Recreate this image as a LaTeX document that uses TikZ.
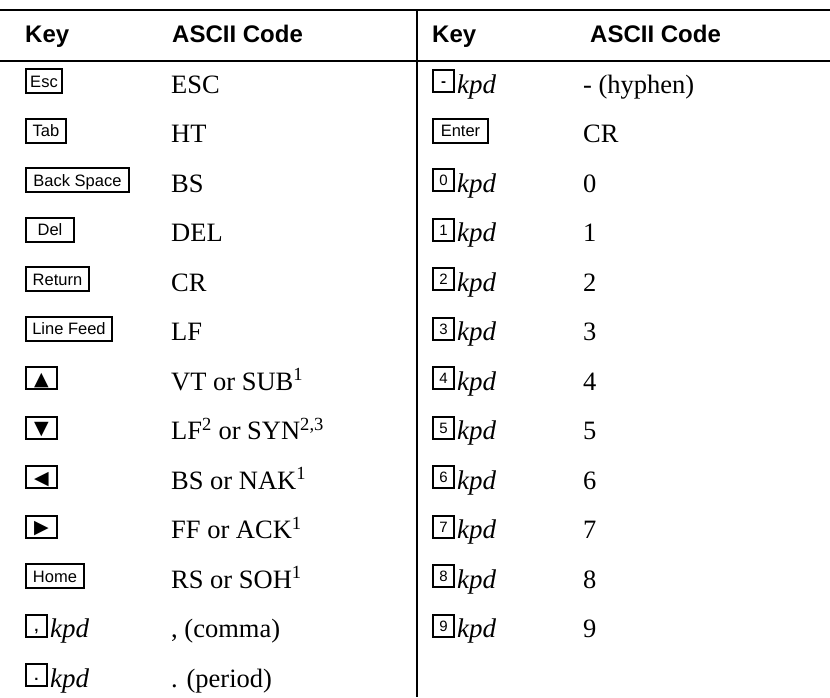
\documentclass[tikz,border=0pt]{standalone}
\usepackage{fontspec}
\setmainfont{Liberation Serif}
\setsansfont{Liberation Sans}
\newfontfamily\arrowfont{DejaVu Sans}
\usetikzlibrary{positioning}

\begin{document}
\begin{tikzpicture}[x=1pt, y=-1pt]
    \tikzset{
      head/.style={anchor=base west, inner sep=0, font=\sffamily\bfseries\fontsize{24}{28}\selectfont},
      code/.style={anchor=base west, inner sep=0, font=\fontsize{26.5}{30}\selectfont},
      kpd/.style={code, font=\itshape\fontsize{27}{30}\selectfont},
      key/.style={draw, line width=2pt, anchor=west, minimum height=24pt,
                  inner xsep=3pt, inner ysep=0, text height=12pt, text depth=0pt,
                  font=\sffamily\fontsize{16.5}{18}\selectfont},
      pad/.style={key, minimum width=21pt, minimum height=22pt, inner sep=0,
                  text height=11pt, font=\sffamily\fontsize{15}{16}\selectfont},
      arrowkey/.style={key, minimum width=31pt, minimum height=22pt, inner sep=0,
                  text height=14pt, font=\arrowfont\fontsize{19}{20}\selectfont},
    }
    \useasboundingbox (0,0) rectangle (830,697);

    % rules
    \coordinate (tl) at (0,9.5);
    \coordinate (tr) at (830,9.5);
    \coordinate (hl) at (0,61);
    \coordinate (hr) at (830,61);
    \coordinate (vt) at (417,9.5);
    \coordinate (vb) at (417,697);
    \draw[line width=2pt] (tl) -- (tr);
    \draw[line width=2.5pt] (hl) -- (hr);
    \draw[line width=2pt] (vt) -- (vb);

    % header
    \node[head] (hk1) at (25,42) {Key};
    \node[head] (hc1) at (172,42) {ASCII Code};
    \node[head] (hk2) at (432,42) {Key};
    \node[head] (hc2) at (590,42) {ASCII Code};

    % left half
    \node[key, minimum width=36pt] (esc) at (25,81) {Esc};
    \node[code] (c-esc) at (171,93) {ESC};
    \node[key, minimum width=40pt] (tab) at (25,130.5) {Tab};
    \node[code] (c-tab) at (171,142.5) {HT};
    \node[key, minimum width=103pt] (bsp) at (25,180) {Back Space};
    \node[code] (c-bsp) at (171,192) {BS};
    \node[key, minimum width=48pt] (del) at (25,229.5) {Del};
    \node[code] (c-del) at (171,241.5) {DEL};
    \node[key, minimum width=63pt] (ret) at (25,279) {Return};
    \node[code] (c-ret) at (171,291) {CR};
    \node[key, minimum width=86pt] (lf) at (25,328.5) {Line Feed};
    \node[code] (c-lf) at (171,340.5) {LF};
    \node[arrowkey] (up) at (25,378) {▲};
    \node[code] (c-up) at (171,390) {VT or SUB\textsuperscript{1}};
    \node[arrowkey] (down) at (25,427.5) {▼};
    \node[code] (c-down) at (171,439.5) {LF\textsuperscript{2} or SYN\textsuperscript{2,3}};
    \node[arrowkey] (left) at (25,477) {◀};
    \node[code] (c-left) at (171,489) {BS or NAK\textsuperscript{1}};
    \node[arrowkey] (right) at (25,526.5) {▶};
    \node[code] (c-right) at (171,538.5) {FF or ACK\textsuperscript{1}};
    \node[key, minimum width=58pt] (home) at (25,576) {Home};
    \node[code] (c-home) at (171,588) {RS or SOH\textsuperscript{1}};
    \node[pad] (comma) at (25,625.5) {\bfseries ,};
    \node[code] (c-comma) at (171,637.5) {, (comma)};
    \node[kpd] (k-comma) at ([xshift=2pt]comma.east |- c-comma.base) {kpd};
    \node[pad] (period) at (25,675) {\bfseries .};
    \node[code] (c-period) at (171,687) {. (period)};
    \node[kpd] (k-period) at ([xshift=2pt]period.east |- c-period.base) {kpd};

    % right half
    \node[pad] (hyphen) at (432,81) {\bfseries -};
    \node[code] (c-hyphen) at (583,93) {- (hyphen)};
    \node[kpd] (k-hyphen) at ([xshift=2pt]hyphen.east |- c-hyphen.base) {kpd};
    \node[key, minimum width=55pt] (enter) at (432,130.5) {Enter};
    \node[code] (c-enter) at (583,142.5) {CR};
    \foreach \d in {0,...,9} {
      \pgfmathsetmacro{\yy}{180+49.5*\d}
      \node[pad] (pad\d) at (432,\yy) {\d};
      \node[code] (c\d) at (583,\yy+12) {\d};
      \node[kpd] (k\d) at ([xshift=2pt]pad\d.east |- c\d.base) {kpd};
    }

  \end{tikzpicture}
\end{document}
